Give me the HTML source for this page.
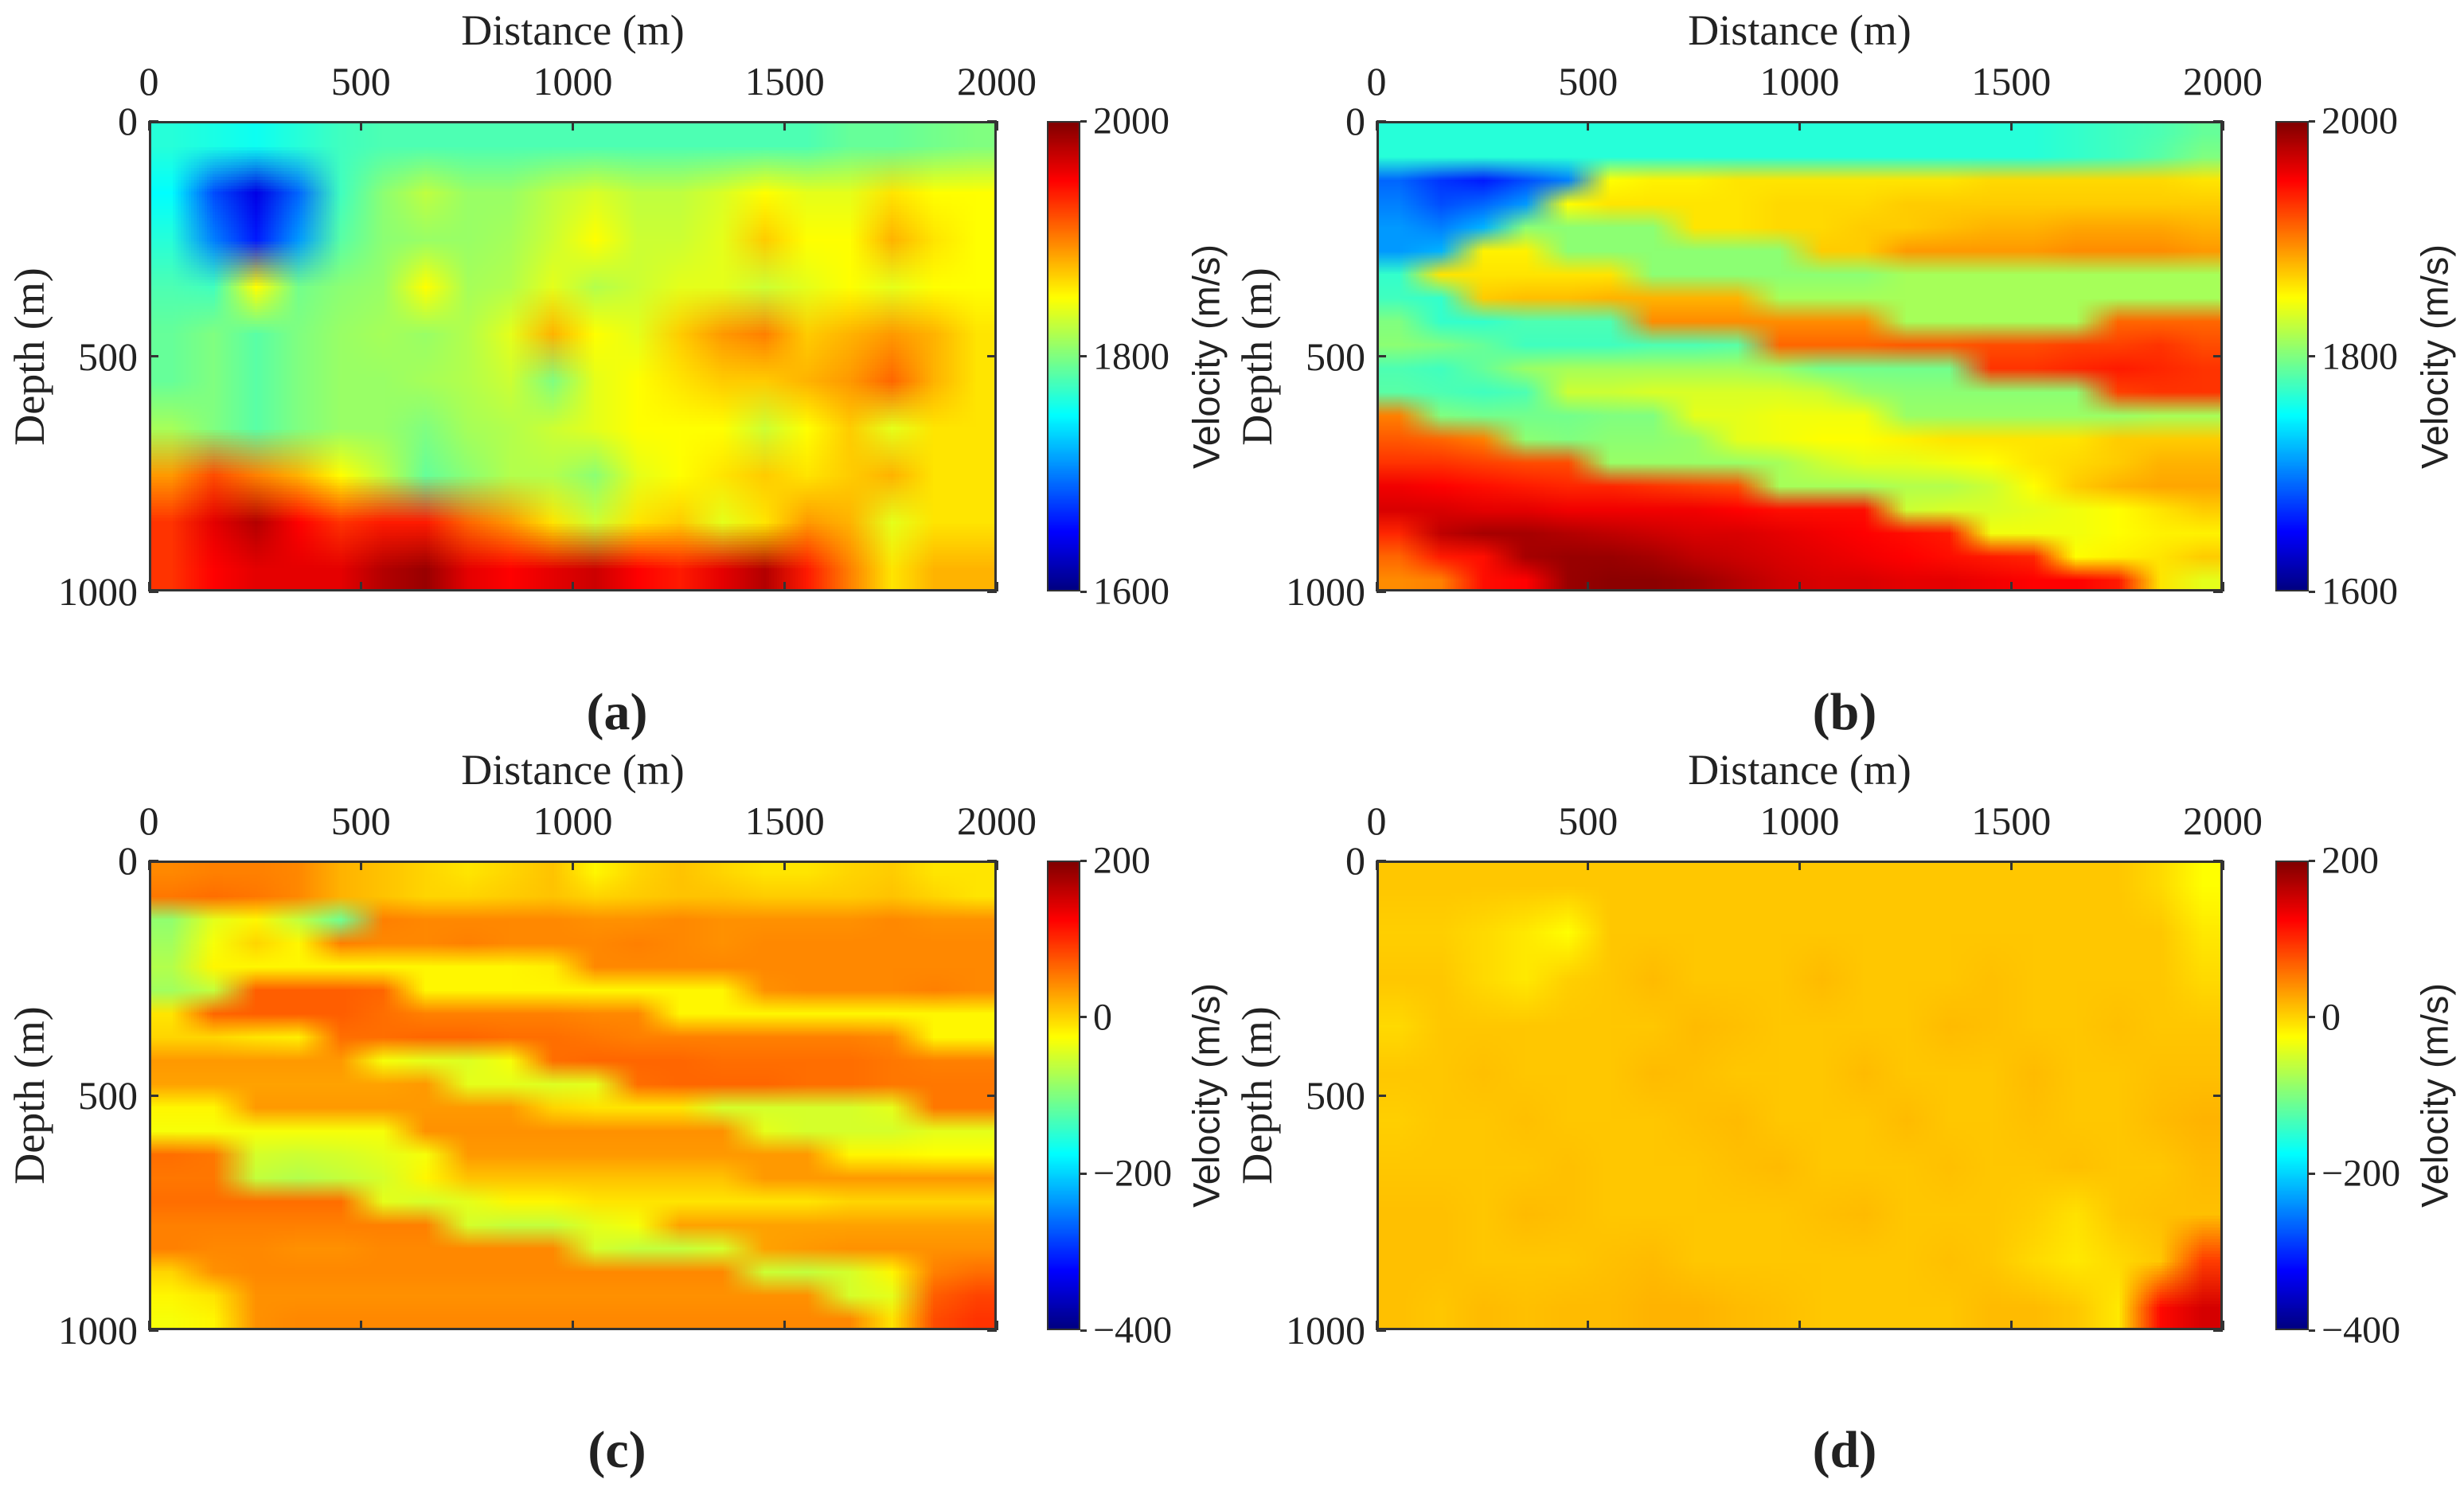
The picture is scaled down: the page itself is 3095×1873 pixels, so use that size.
<!DOCTYPE html>
<html><head><meta charset="utf-8">
<style>
html,body{margin:0;padding:0;background:#fff;}
#root{position:relative;width:3095px;height:1873px;overflow:hidden;background:#fff;font-family:"Liberation Serif",serif;color:#222;}
.t{position:absolute;white-space:nowrap;}
.heat{position:absolute;image-rendering:auto;}
.frame{position:absolute;border:3px solid #333;box-sizing:border-box;}
.tick{position:absolute;background:#333;}
.cb{position:absolute;border:2px solid #333;box-sizing:border-box;}
</style></head>
<body>
<div id="root"></div>
<script>
// ---------- data ----------
const distanceTicks = [0, 500, 1000, 1500, 2000];
const depthTicks = [0, 500, 1000];
const cbTicksAB = [1600, 1800, 2000];
const cbTicksCD = [-400, -200, 0, 200];
const cbTickLabelsCD = ["\u2212400", "\u2212200", "0", "200"];
const gridDistances = [50,150,250,350,450,550,650,750,850,950,1050,1150,1250,1350,1450,1550,1650,1750,1850,1950];
const gridDepths10 = [50,150,250,350,450,550,650,750,850,950];
const gridDepths20 = [25,75,125,175,225,275,325,375,425,475,525,575,625,675,725,775,825,875,925,975];

const velA = [
[1765,1760,1755,1765,1775,1780,1780,1780,1780,1780,1780,1780,1780,1780,1780,1780,1790,1790,1795,1800],
[1750,1680,1640,1690,1775,1805,1825,1810,1810,1825,1835,1825,1825,1835,1850,1840,1840,1860,1850,1850],
[1765,1700,1660,1710,1785,1805,1810,1810,1815,1830,1850,1830,1830,1840,1870,1850,1850,1880,1860,1850],
[1780,1775,1850,1795,1805,1810,1850,1815,1820,1840,1820,1830,1840,1840,1830,1840,1850,1840,1850,1850],
[1790,1800,1785,1800,1810,1815,1810,1820,1840,1880,1850,1840,1870,1890,1900,1870,1880,1890,1880,1860],
[1790,1800,1785,1800,1810,1810,1815,1820,1830,1800,1840,1850,1860,1870,1870,1880,1890,1910,1880,1860],
[1815,1800,1785,1800,1810,1810,1800,1815,1820,1830,1840,1850,1850,1850,1830,1850,1870,1840,1860,1860],
[1890,1920,1900,1880,1850,1825,1790,1805,1820,1820,1805,1840,1850,1860,1870,1860,1870,1880,1860,1860],
[1930,1960,1980,1950,1930,1940,1940,1910,1890,1860,1830,1860,1870,1840,1860,1890,1880,1840,1860,1860],
[1930,1950,1960,1960,1960,1980,1990,1960,1950,1960,1970,1950,1940,1960,1980,1940,1900,1860,1880,1880]];

const velB = [
[1765,1765,1765,1765,1765,1765,1765,1765,1765,1765,1765,1765,1765,1765,1765,1765,1770,1775,1780,1790],
[1765,1765,1765,1765,1765,1765,1765,1765,1765,1765,1765,1765,1765,1765,1765,1765,1770,1775,1785,1800],
[1690,1670,1660,1680,1700,1850,1855,1855,1860,1860,1860,1860,1860,1860,1865,1865,1865,1865,1865,1860],
[1700,1680,1690,1710,1850,1860,1860,1860,1860,1865,1865,1865,1870,1870,1870,1870,1870,1870,1870,1870],
[1710,1700,1720,1805,1805,1805,1805,1860,1860,1865,1865,1870,1870,1875,1880,1880,1885,1885,1885,1880],
[1710,1720,1855,1855,1805,1805,1805,1805,1805,1805,1870,1870,1890,1890,1890,1890,1895,1895,1895,1890],
[1770,1860,1860,1860,1860,1860,1805,1805,1805,1805,1805,1805,1815,1815,1815,1815,1815,1815,1815,1815],
[1775,1770,1870,1875,1875,1880,1880,1880,1880,1815,1815,1815,1815,1815,1815,1815,1815,1815,1815,1815],
[1800,1770,1770,1780,1780,1780,1895,1895,1895,1895,1895,1895,1815,1815,1815,1815,1815,1910,1910,1910],
[1805,1800,1790,1775,1775,1775,1780,1780,1785,1910,1910,1910,1915,1915,1920,1920,1925,1925,1930,1920],
[1780,1775,1790,1810,1815,1815,1815,1815,1815,1810,1795,1795,1795,1795,1930,1930,1935,1940,1935,1930],
[1785,1780,1775,1780,1830,1830,1835,1835,1835,1835,1830,1810,1805,1805,1805,1805,1805,1925,1930,1930],
[1900,1800,1795,1795,1795,1800,1800,1840,1840,1845,1845,1845,1810,1810,1810,1810,1810,1810,1815,1815],
[1915,1910,1900,1805,1800,1805,1805,1810,1840,1845,1850,1850,1855,1860,1860,1860,1860,1870,1870,1870],
[1930,1930,1925,1920,1920,1810,1810,1810,1810,1815,1830,1840,1840,1845,1850,1860,1865,1870,1880,1880],
[1955,1950,1945,1940,1935,1935,1930,1925,1920,1815,1815,1815,1820,1820,1830,1850,1870,1880,1885,1885],
[1965,1965,1960,1960,1955,1955,1955,1955,1950,1945,1945,1945,1830,1835,1835,1840,1845,1850,1860,1870],
[1935,1975,1985,1985,1980,1975,1970,1965,1965,1960,1955,1950,1945,1940,1845,1845,1845,1850,1855,1855],
[1910,1940,1945,1985,1990,1990,1985,1975,1970,1965,1960,1955,1950,1945,1940,1935,1850,1855,1860,1870],
[1895,1900,1945,1950,1990,1995,1995,1990,1980,1970,1965,1965,1960,1960,1955,1950,1950,1940,1860,1840]];

const velC = [
[45,50,50,45,20,10,0,-10,0,10,-20,0,10,0,-10,-10,0,5,-10,-10],
[55,60,55,45,20,10,0,0,5,10,0,5,10,10,5,5,5,10,0,-10],
[-90,-40,-20,-60,-110,50,45,45,45,45,40,40,45,40,40,40,40,45,40,40],
[-80,-30,0,-20,50,45,45,50,45,45,45,50,45,40,45,45,45,45,45,45],
[-70,-20,-20,-20,-20,-20,-20,-20,-20,-15,45,45,45,45,45,45,45,45,45,45],
[-80,-60,70,70,70,65,-20,-20,-20,-20,-20,-20,-20,-20,40,45,45,45,50,45],
[-10,65,70,70,70,60,50,50,50,50,45,45,-20,-20,-20,-20,-20,-20,-20,-20],
[0,0,-10,-15,60,60,65,65,60,60,55,50,50,50,50,50,50,45,-20,-20],
[35,35,35,35,35,-30,-40,-45,-30,60,65,65,65,60,60,60,60,55,50,50],
[30,30,30,30,30,30,35,-40,-40,-45,-40,60,65,65,65,60,60,55,55,55],
[-20,-20,35,35,35,35,35,35,35,0,-10,-10,-10,-50,-50,-50,-50,-40,55,55],
[-30,-30,-30,-30,-30,-30,40,40,40,40,40,40,40,40,-40,-50,-50,-50,-40,-40],
[60,55,-50,-55,-50,-40,-30,35,35,35,35,35,35,35,35,35,-20,-20,-25,-25],
[55,55,-60,-70,-60,-50,-20,10,10,10,10,10,10,10,35,35,35,35,35,35],
[60,60,60,60,60,-40,-50,-40,-20,-20,-10,-10,-10,-10,-10,-10,0,0,0,0],
[50,50,50,50,50,50,50,-50,-60,-60,-40,-30,30,30,30,30,30,30,30,30],
[50,45,45,40,40,45,45,45,45,45,-50,-60,-60,-50,30,35,40,40,40,40],
[0,40,45,45,45,45,45,45,45,45,45,45,45,45,-55,-60,-50,-20,50,60],
[-20,-10,40,40,40,40,40,40,40,40,40,40,40,40,40,40,-50,-40,70,85],
[-30,-20,40,45,45,45,45,45,45,45,45,45,45,45,45,45,45,-10,80,95]];

const velD = [
[8,8,8,8,8,8,8,8,8,8,8,8,8,8,8,8,8,8,-3,-25],
[3,3,-3,-12,-25,8,8,8,8,8,8,8,8,8,8,8,8,8,8,-12],
[8,8,-3,-12,3,8,15,8,8,8,15,8,8,8,12,8,8,8,8,-3],
[-3,8,8,8,8,8,8,15,12,8,8,8,8,15,12,8,8,12,8,8],
[8,8,12,8,8,8,15,12,8,8,8,15,8,8,8,15,8,8,12,12],
[3,8,8,12,8,8,8,12,15,8,8,8,15,8,8,12,8,8,15,20],
[8,8,8,8,12,8,8,8,12,15,8,8,8,12,8,8,12,8,8,15],
[12,12,8,15,12,8,8,8,8,8,12,15,8,8,8,3,-8,8,12,12],
[12,12,8,8,8,12,15,8,8,8,8,8,8,12,8,-3,-12,-3,8,90],
[12,8,15,12,15,15,20,20,15,12,8,8,8,8,15,15,8,-12,120,150]];

// ---------- helpers ----------
const root = document.getElementById('root');
function jet(f){
  f=Math.max(0,Math.min(1,f));
  const r=Math.max(0,Math.min(1,1.5-Math.abs(4*f-3)));
  const g=Math.max(0,Math.min(1,1.5-Math.abs(4*f-2)));
  const b=Math.max(0,Math.min(1,1.5-Math.abs(4*f-1)));
  return 'rgb('+Math.round(r*255)+','+Math.round(g*255)+','+Math.round(b*255)+')';
}
function text(str,x,y,size,opts){
  const d=document.createElement('div');
  d.className='t';
  d.textContent=str;
  d.style.fontSize=size+'px';
  d.style.left=x+'px';d.style.top=y+'px';
  if(opts&&opts.font)d.style.fontFamily=opts.font;
  if(opts&&opts.weight)d.style.fontWeight=opts.weight;
  d.style.transform=(opts&&opts.tf)||'translate(-50%,-50%)';
  root.appendChild(d);
  return d;
}

function panel(p){
  const W=p.x1-p.x0,H=p.y1-p.y0;
  const xs=v=>p.x0+v/2000*W;
  const ys=v=>p.y0+v/1000*H;
  const cv=(v)=>(v-p.vmin)/(p.vmax-p.vmin);
  const depths=p.depths;
  const c=document.createElement('canvas');
  c.width=gridDistances.length;c.height=depths.length;
  c.className='heat';
  
  
  c.style.left=p.x0+'px';c.style.top=p.y0+'px';
  c.style.width=W+'px';c.style.height=H+'px';
  const ctx=c.getContext('2d');
  for(let r=0;r<depths.length;r++){
    for(let k=0;k<gridDistances.length;k++){
      ctx.fillStyle=jet(cv(p.data[r][k]));
      const cx=Math.round((xs(gridDistances[k])-p.x0)/W*c.width-0.5);
      const cy=Math.round((ys(depths[r])-p.y0)/H*c.height-0.5);
      ctx.fillRect(cx,cy,1,1);
    }
  }
  root.appendChild(c);
  const f=document.createElement('div');
  f.className='frame';
  
  
  f.style.left=p.x0+'px';f.style.top=p.y0+'px';f.style.width=W+'px';f.style.height=H+'px';
  root.appendChild(f);
  distanceTicks.forEach(v=>{
    const x=xs(v);
    [p.y0,p.y1-12].forEach(yy=>{
      const t=document.createElement('div');t.className='tick';
      
      
      t.style.left=(x-1.5)+'px';t.style.top=yy+'px';t.style.width='3px';t.style.height='12px';
      root.appendChild(t);
    });
    const l=text(String(v),x,p.y0-50,50);
    
    
  });
  depthTicks.forEach(v=>{
    const y=ys(v);
    [p.x0,p.x1-12].forEach(xx=>{
      const t=document.createElement('div');t.className='tick';
      
      
      t.style.left=xx+'px';t.style.top=(y-1.5)+'px';t.style.width='12px';t.style.height='3px';
      root.appendChild(t);
    });
    const l=text(String(v),p.x0-14,y,50,{tf:'translate(-100%,-50%)'});
    
    
  });
  const xt=text('Distance (m)',(p.x0+p.x1)/2,p.y0-114,54);
  
  
  const yt=text('Depth (m)',p.x0-150,(p.y0+p.y1)/2,54,{tf:'translate(-50%,-50%) rotate(-90deg)'});
  
  
  const cb=document.createElement('canvas');
  cb.width=1;cb.height=256;
  cb.className='heat';
  
  
  cb.style.left=p.cbx+'px';cb.style.top=p.y0+'px';cb.style.width='42px';cb.style.height=H+'px';
  const cx2=cb.getContext('2d');
  for(let i=0;i<256;i++){cx2.fillStyle=jet(1-i/255);cx2.fillRect(0,i,1,1);}
  root.appendChild(cb);
  const cbf=document.createElement('div');cbf.className='cb';
  
  
  cbf.style.left=p.cbx+'px';cbf.style.top=p.y0+'px';cbf.style.width='42px';cbf.style.height=H+'px';
  root.appendChild(cbf);
  p.cbTicks.forEach((v,i)=>{
    const y=p.y1-(v-p.vmin)/(p.vmax-p.vmin)*H;
    const t=document.createElement('div');t.className='tick';
    
    
    t.style.left=(p.cbx+42)+'px';t.style.top=(y-1.5)+'px';t.style.width='8px';t.style.height='3px';
    root.appendChild(t);
    const l=text(p.cbLabels[i],p.cbx+58,y,48,{tf:'translate(0,-50%)'});
    
    
  });
  const ct=text('Velocity (m/s)',p.cbx+200,(p.y0+p.y1)/2,47,{font:'"Liberation Sans",sans-serif',tf:'translate(-50%,-50%) rotate(-90deg)'});
  
  
  const pl=text('('+p.letter+')',p.lx,p.ly,66,{weight:'bold'});
  
  
}

panel({id:'panel-a',letter:'a',x0:187,x1:1252,y0:152,y1:743,cbx:1315,vmin:1600,vmax:2000,data:velA,depths:gridDepths10,cbTicks:cbTicksAB,cbLabels:cbTicksAB.map(String),lx:775,ly:895});
panel({id:'panel-b',letter:'b',x0:1729,x1:2792,y0:152,y1:743,cbx:2858,vmin:1600,vmax:2000,data:velB,depths:gridDepths20,cbTicks:cbTicksAB,cbLabels:cbTicksAB.map(String),lx:2317,ly:895});
panel({id:'panel-c',letter:'c',x0:187,x1:1252,y0:1081,y1:1671,cbx:1315,vmin:-400,vmax:200,data:velC,depths:gridDepths20,cbTicks:cbTicksCD,cbLabels:cbTickLabelsCD,lx:775,ly:1822});
panel({id:'panel-d',letter:'d',x0:1729,x1:2792,y0:1081,y1:1671,cbx:2858,vmin:-400,vmax:200,data:velD,depths:gridDepths10,cbTicks:cbTicksCD,cbLabels:cbTickLabelsCD,lx:2317,ly:1822});
</script>
</body></html>
